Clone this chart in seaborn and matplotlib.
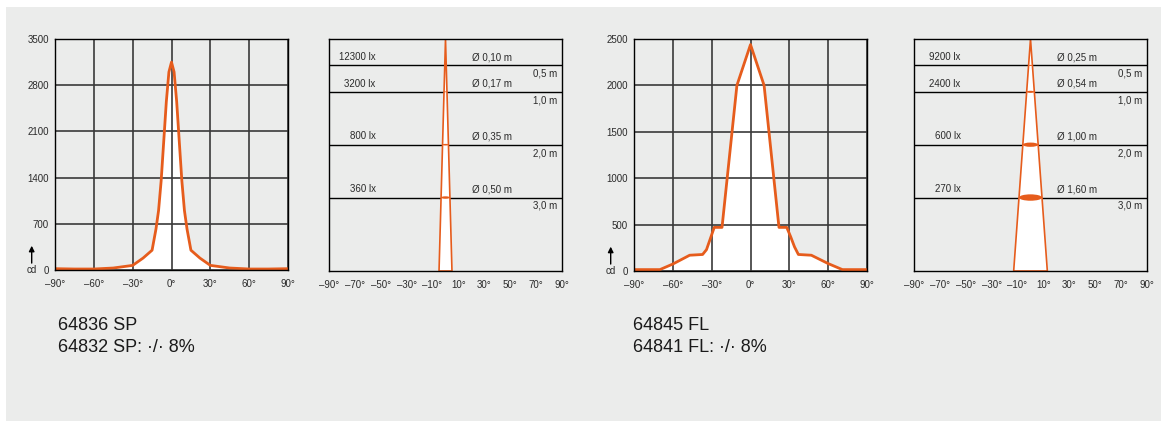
import matplotlib
matplotlib.use('Agg')
import matplotlib.pyplot as plt
import seaborn as sns
import pandas as pd
from matplotlib.patches import Rectangle, Ellipse, Polygon

# ---- data -----------------------------------------------------------------
# luminous intensity curves (cd over beam angle)
sp_angle = [-90, -75, -60, -45, -30, -22, -15, -12, -10, -8, -6, -4, -2, 0,
            2, 4, 6, 8, 10, 12, 15, 22, 30, 45, 60, 75, 90]
sp_cd = [20, 15, 15, 30, 70, 180, 300, 620, 900, 1350, 1950, 2550, 3000, 3150,
         3000, 2550, 1950, 1350, 900, 620, 300, 180, 70, 30, 15, 15, 20]

fl_angle = [-90, -70, -60, -47, -37, -34, -31, -28, -22, -10.5, 0, 10.5, 22,
            28, 31, 34, 37, 47, 60, 71, 90]
fl_cd = [15, 15, 75, 170, 178, 230, 350, 470, 470, 2000, 2440, 2000, 470,
         470, 370, 260, 178, 170, 80, 15, 15]

sp_yticks = [0, 700, 1400, 2100, 2800, 3500]
fl_yticks = [0, 500, 1000, 1500, 2000, 2500]
curve_xticks = [-90, -60, -30, 0, 30, 60, 90]
cone_xticks = [-90, -70, -50, -30, -10, 10, 30, 50, 70, 90]

# beam cone diagrams
dist_m = [0.5, 1.0, 2.0, 3.0]
dist_labels = ['0,5 m', '1,0 m', '2,0 m', '3,0 m']
sp_lux = ['12300 lx', '3200 lx', '800 lx', '360 lx']
sp_diam = ['Ø 0,10 m', 'Ø 0,17 m', 'Ø 0,35 m', 'Ø 0,50 m']
fl_lux = ['9200 lx', '2400 lx', '600 lx', '270 lx']
fl_diam = ['Ø 0,25 m', 'Ø 0,54 m', 'Ø 1,00 m', 'Ø 1,60 m']
sp_cone_deg = 5     # drawn half width of the cone at the bottom edge
fl_cone_deg = 13
cone_depth = 4.39

sp_names = ['64836 SP', '64832 SP: \u00b7/\u00b7 8%']
fl_names = ['64845 FL', '64841 FL: \u00b7/\u00b7 8%']

# ---- style ------------------------------------------------------------------
sns.set_theme(style='white')
plt.rcParams['font.family'] = ['Liberation Sans', 'DejaVu Sans']
plt.rcParams['axes.unicode_minus'] = False

bg = '#ebeceb'
orange = '#e65c1c'
gridc = '#3a3a3a'
txt = '#2a2a2a'

W, H = 1161, 421
fig = plt.figure(figsize=(W / 100, H / 100), dpi=100)
fig.patch.set_facecolor('white')
fig.patches.append(Rectangle((6 / W, 0), 1, (H - 7) / H, transform=fig.transFigure,
                             facecolor=bg, edgecolor='none', zorder=-5))


def deg_labels(ticks):
    return [('\u2013' + str(abs(t)) if t < 0 else str(t)) + '\u00b0' for t in ticks]


def box(x0, y0, x1, y1):
    return [x0 / W, 1 - y1 / H, (x1 - x0) / W, (y1 - y0) / H]


def curve_panel(rect, angle, cd, yticks):
    ax = fig.add_axes(rect)
    ax.set_facecolor(bg)
    df = pd.DataFrame({'angle': angle, 'cd': cd})
    ax.fill_between(df['angle'], df['cd'], 0, color='white', lw=0, zorder=1)
    sns.lineplot(data=df, x='angle', y='cd', ax=ax, color=orange, lw=2.0, zorder=3)
    ax.set_xlim(-90, 90)
    ax.set_ylim(0, yticks[-1])
    ax.set_xticks(curve_xticks)
    ax.set_xticklabels(deg_labels(curve_xticks))
    ax.set_yticks(yticks)
    ax.grid(True, color=gridc, lw=1.2)
    ax.set_axisbelow(False)
    for l in ax.get_xgridlines() + ax.get_ygridlines():
        l.set_zorder(2)
    ax.tick_params(length=0, labelsize=7, colors=txt)
    ax.tick_params(axis='x', pad=6.5)
    ax.tick_params(axis='y', pad=4.5)
    ax.set_xlabel('')
    ax.set_ylabel('')
    for s in ax.spines.values():
        s.set_color('black')
        s.set_linewidth(1.0)
        s.set_zorder(4)
    # unit marker
    ax.annotate('', xy=(-0.1, 0.105), xytext=(-0.1, 0.03), xycoords='axes fraction',
                arrowprops=dict(arrowstyle='-|>', color='black', lw=1.0,
                                mutation_scale=8, shrinkA=0, shrinkB=0))
    ax.text(-0.1, 0.0, 'cd', transform=ax.transAxes, ha='center', va='center',
            fontsize=7, color=txt)
    return ax


def cone_panel(rect, lux, diam, hw):
    ax = fig.add_axes(rect)
    ax.set_facecolor(bg)
    ax.set_xlim(-90, 90)
    ax.set_ylim(cone_depth, 0)
    for d in dist_m:
        ax.axhline(d, color='black', lw=1.0, zorder=1)
    cone = Polygon([(0, 0), (-hw, cone_depth), (hw, cone_depth)], closed=True,
                   facecolor='white', edgecolor=orange, lw=1.2, zorder=2)
    ax.add_patch(cone)
    for d, lx, dm, dl in zip(dist_m, lux, diam, dist_labels):
        w = 2 * hw * d / cone_depth
        ax.add_patch(Ellipse((0, d), w, w * 0.0068, facecolor=orange,
                             edgecolor='none', zorder=3))
        ax.annotate(lx, xy=(-54, d), xytext=(0, 6), textcoords='offset points',
                    ha='right', va='center', fontsize=7, color=txt)
        ax.annotate(dm, xy=(20.5, d), xytext=(0, 6), textcoords='offset points',
                    ha='left', va='center', fontsize=7, color=txt)
        ax.annotate(dl, xy=(86, d), xytext=(0, -6), textcoords='offset points',
                    ha='right', va='center', fontsize=7, color=txt)
    ax.set_xticks(cone_xticks)
    ax.set_xticklabels(deg_labels(cone_xticks))
    ax.set_yticks([])
    ax.tick_params(length=0, labelsize=7, colors=txt)
    ax.tick_params(axis='x', pad=6.5)
    for s in ax.spines.values():
        s.set_color('black')
        s.set_linewidth(1.0)
        s.set_zorder(4)
    return ax


curve_panel(box(55, 39, 288, 270), sp_angle, sp_cd, sp_yticks)
cone_panel(box(329, 39, 562, 271), sp_lux, sp_diam, sp_cone_deg)
curve_panel(box(634, 39, 867, 271), fl_angle, fl_cd, fl_yticks)
cone_panel(box(914, 39, 1147, 271), fl_lux, fl_diam, fl_cone_deg)

# article numbers below the diagrams
for x0, names in [(58, sp_names), (633, fl_names)]:
    for i, name in enumerate(names):
        fig.text(x0 / W, 1 - (325 + 22 * i) / H, name, ha='left', va='center',
                 fontsize=13, color='#1a1a1a')

fig.savefig('out.png', dpi=100, facecolor=fig.get_facecolor())
